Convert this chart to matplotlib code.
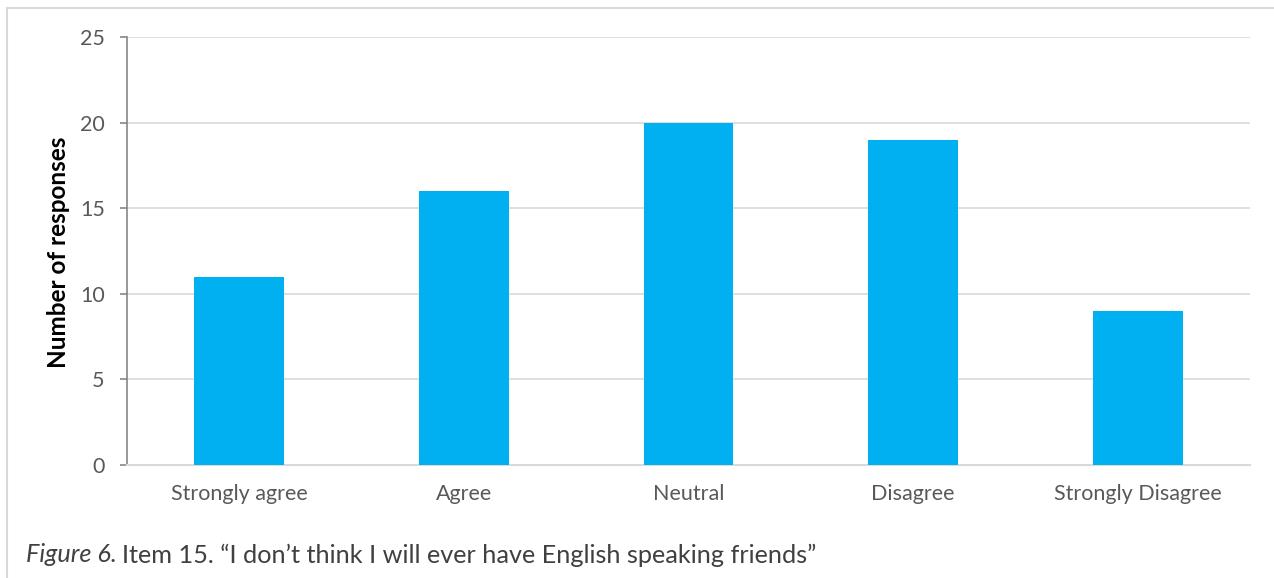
import matplotlib.pyplot as plt
from matplotlib.patches import Rectangle

categories = ["Strongly agree", "Agree", "Neutral", "Disagree", "Strongly Disagree"]
responses = [11, 16, 20, 19, 9]
y_ticks = [0, 5, 10, 15, 20, 25]

plt.rcParams['font.family'] = ['Lato', 'DejaVu Sans']

W, H = 1274, 578
fig = plt.figure(figsize=(W / 100, H / 100), dpi=100)

# plot area in pixel coordinates
left, right, top, bottom = 127, 1250, 37, 465
ax = fig.add_axes([left / W, 1 - bottom / H, (right - left) / W, (bottom - top) / H])

x = range(len(categories))
ax.bar(x, responses, width=0.4, color="#00B0F0", zorder=3)

ax.set_xlim(-0.5, len(categories) - 0.5)
ax.set_ylim(0, 25)
ax.set_yticks(y_ticks)
ax.set_xticks(list(x))
ax.set_xticklabels(categories)
ax.grid(axis="y", color="#D9D9D9", linewidth=1.2, zorder=0)

for side in ["top", "right"]:
    ax.spines[side].set_visible(False)
ax.spines["left"].set_color("#868686")
ax.spines["left"].set_linewidth(1.2)
ax.spines["bottom"].set_color("#D9D9D9")
ax.spines["bottom"].set_linewidth(1.5)

ax.tick_params(axis="y", colors="#595959", labelsize=15.5, length=5, width=1.2,
               direction="out", color="#868686", pad=11)
ax.tick_params(axis="x", colors="#595959", labelsize=15.5, length=0, pad=14)

fig.text(59 / W, 1 - 252 / H, "Number of responses", rotation=90, fontsize=17.5,
         fontweight="bold", ha="center", va="center", color="black")

# outer frame around the chart and caption
fig.patches.append(Rectangle((7 / W, -0.1), 1.2, 1 - 8 / H + 0.1, transform=fig.transFigure,
                             fill=False, edgecolor="#D9D9D9", linewidth=1.5))

cap_y = 1 - 555 / H
fig_lbl = fig.text(26 / W, cap_y, "Figure 6.", fontsize=18.2, style="italic",
                   ha="left", va="center", color="#404040")
renderer = fig.canvas.get_renderer()
bb = fig_lbl.get_window_extent(renderer)
fig.text((bb.x1 + 5) / W, cap_y,
         "Item 15. \u201cI don\u2019t think I will ever have English speaking friends\u201d",
         fontsize=18.2, ha="left", va="center", color="#404040")

fig.savefig("out.png", dpi=100)
